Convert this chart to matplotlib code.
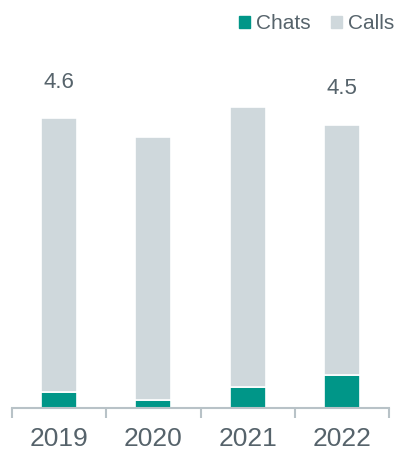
import matplotlib.pyplot as plt
import numpy as np
from matplotlib.patches import Patch

plt.rcParams['font.family'] = ['Liberation Sans', 'DejaVu Sans']

years = ['2019', '2020', '2021', '2022']
chats = [0.25, 0.13, 0.34, 0.53]
totals = [4.6, 4.3, 4.78, 4.5]
calls = [t - c for t, c in zip(totals, chats)]
labels = {0: '4.6', 3: '4.5'}

teal = '#009688'
grey = '#cfd8dc'
text_col = '#56636b'
axis_col = '#b8c2c7'

fig = plt.figure(figsize=(4.07, 4.53), dpi=100)
ax = fig.add_axes([12 / 407, 45 / 453, 377 / 407, 368 / 453])

x = np.arange(len(years))
width = 0.38
ax.bar(x, chats, width, color=teal, edgecolor='white', linewidth=1.2)
ax.bar(x, calls, width, bottom=chats, color=grey, edgecolor='white',
       linewidth=1.2)

for i, txt in labels.items():
    ax.text(x[i], totals[i] + 0.4, txt, ha='center', va='bottom',
            fontsize=16, color=text_col)

ax.set_xlim(-0.5, 3.5)
ax.set_ylim(0, 368 / 63)

for s in ['top', 'right', 'left']:
    ax.spines[s].set_visible(False)
ax.spines['bottom'].set_color(axis_col)
ax.spines['bottom'].set_linewidth(1.5)
ax.set_yticks([])

ax.set_xticks(x)
ax.set_xticklabels(years, fontsize=19, color=text_col)
ax.tick_params(axis='x', which='major', length=0, pad=13.5)
ax.set_xticks(np.arange(-0.5, 4, 1), minor=True)
ax.tick_params(axis='x', which='minor', length=7, width=1.5,
               color=axis_col, direction='out')

handles = [Patch(color=teal, label='Chats'), Patch(color=grey, label='Calls')]
fig.legend(handles=handles, loc='upper right', bbox_to_anchor=(1.015, 1.01),
           ncol=2, frameon=False, fontsize=15, labelcolor=text_col,
           handlelength=0.5, handleheight=0.5, handletextpad=0.3,
           columnspacing=1.0)

fig.savefig('out.png', dpi=100)
